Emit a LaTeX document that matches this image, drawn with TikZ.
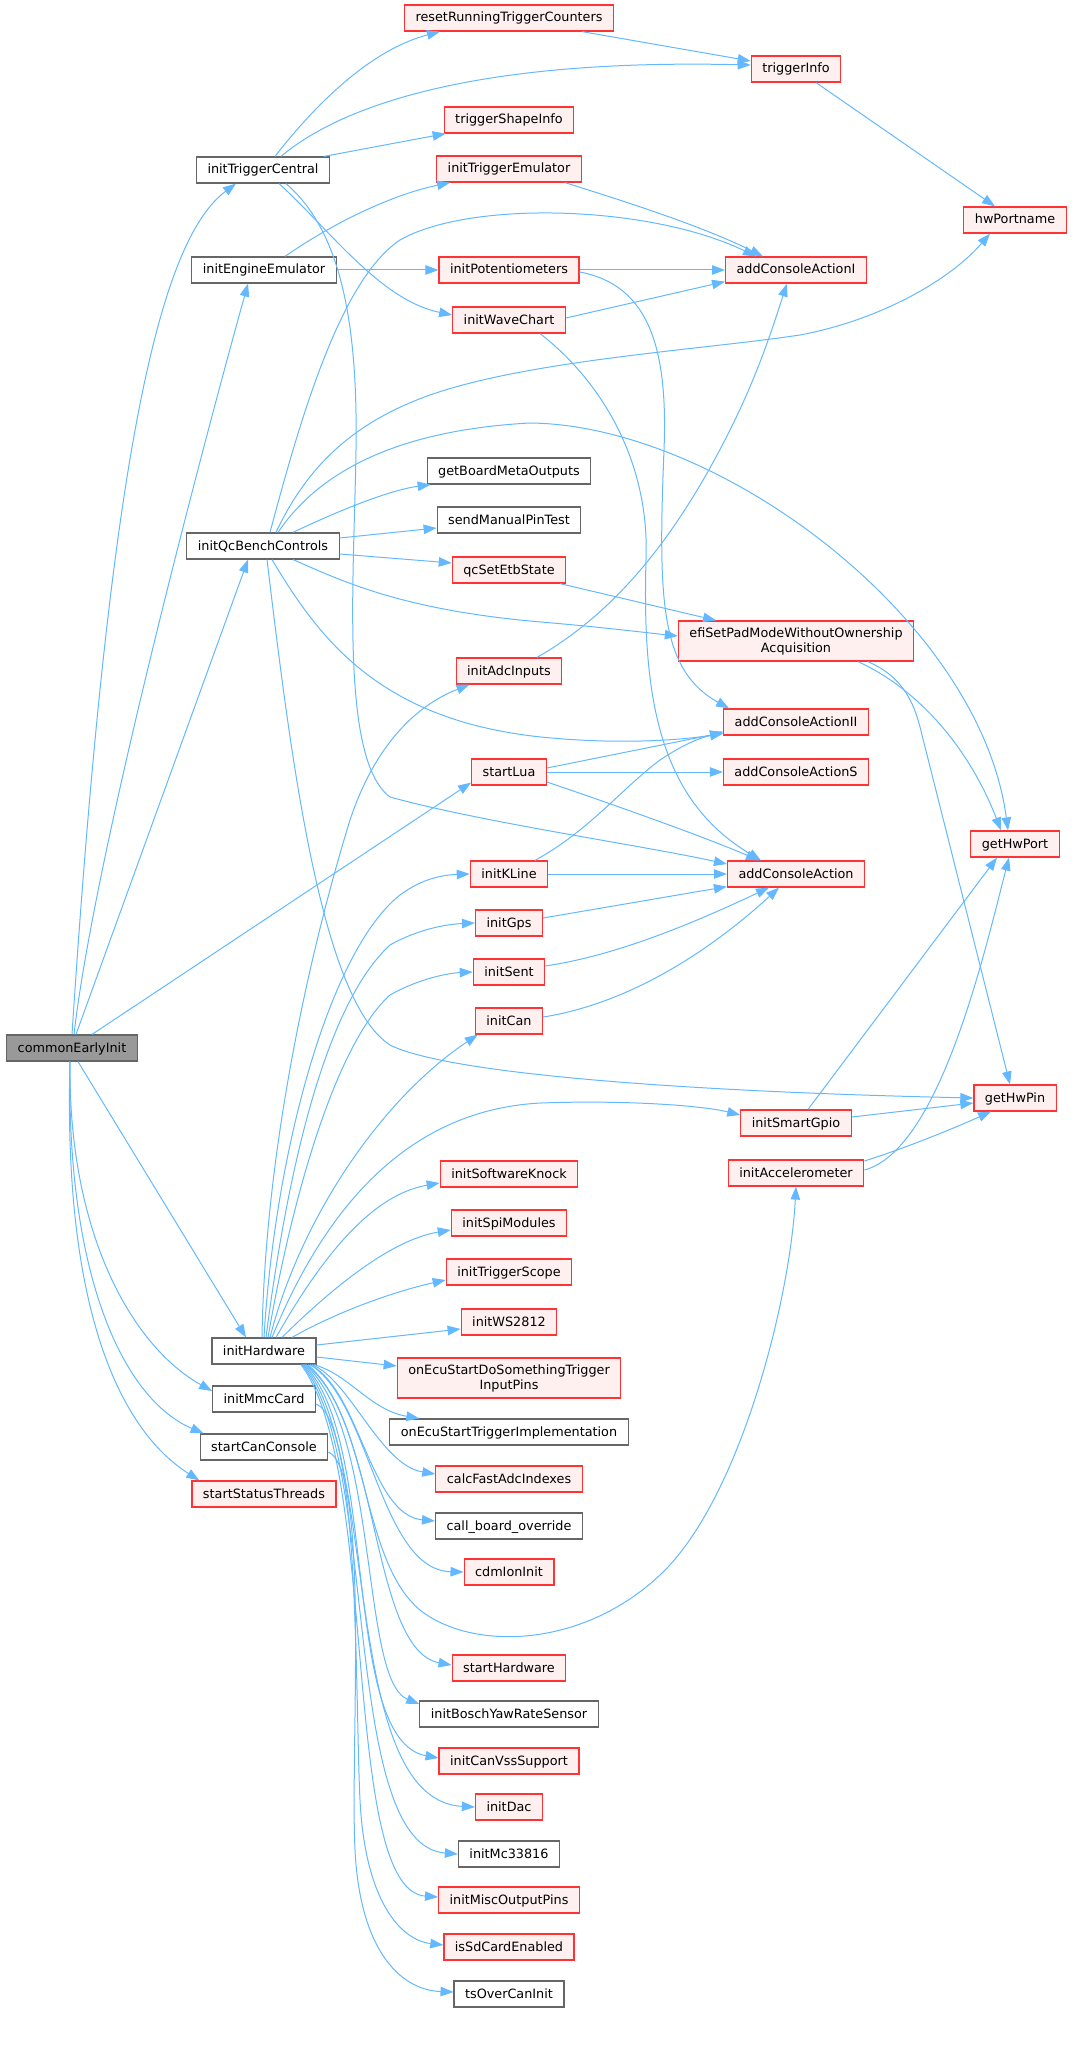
\documentclass[tikz,border=0pt]{standalone}
\usepackage{fontspec}
\setmainfont{DejaVu Sans}
\usetikzlibrary{arrows.meta}
\definecolor{edgecol}{HTML}{63B8FF}
\definecolor{redbd}{HTML}{FF3333}
\definecolor{redfill}{HTML}{FFF0F0}
\definecolor{graybd}{HTML}{666666}
\definecolor{rootfill}{HTML}{999999}
\tikzset{
  fn/.style={rectangle, draw=graybd, fill=white, line width=1.2pt,
    font=\fontsize{12.8}{15}\selectfont, inner xsep=11pt, inner ysep=0pt,
    minimum height=26pt, text height=10pt, text depth=2pt},
  rfn/.style={fn, draw=redbd, fill=redfill},
  rfn2/.style={rectangle, draw=redbd, fill=redfill, line width=1.2pt,
    font=\fontsize{12.8}{15}\selectfont, inner xsep=11pt, inner ysep=0pt,
    minimum height=40pt, align=center},
  root/.style={fn, fill=rootfill},
  e/.style={draw=edgecol, line width=1pt, -{Triangle[length=13pt,width=9.5pt]}}
}
\begin{document}
\begin{tikzpicture}[x=1pt,y=-1pt]
\useasboundingbox (0,0) rectangle (1073,2049);
% column A
\node[root] (cei) at (72,1048) {commonEarlyInit};
% column B
\node[fn] (itc) at (263,170) {initTriggerCentral};
\node[fn] (iee) at (264,270) {initEngineEmulator};
\node[fn] (iqc) at (263,546) {initQcBenchControls};
\node[fn] (ihw) at (264,1351) {initHardware};
\node[fn] (imc) at (264,1399) {initMmcCard};
\node[fn] (scc) at (264,1447) {startCanConsole};
\node[rfn] (sst) at (264,1494) {startStatusThreads};
% column C
\node[rfn] (rrtc) at (509,18) {resetRunningTriggerCounters};
\node[rfn] (tsi) at (509,120) {triggerShapeInfo};
\node[rfn] (ite) at (509,169) {initTriggerEmulator};
\node[rfn] (ipot) at (509,270) {initPotentiometers};
\node[rfn] (iwc) at (509,320) {initWaveChart};
\node[fn] (gbmo) at (509,471) {getBoardMetaOutputs};
\node[fn] (smpt) at (509,520) {sendManualPinTest};
\node[rfn] (qcs) at (509,570) {qcSetEtbState};
\node[rfn] (iadc) at (509,671) {initAdcInputs};
\node[rfn] (slua) at (509,772) {startLua};
\node[rfn] (ikl) at (509,874) {initKLine};
\node[rfn] (igps) at (509,923) {initGps};
\node[rfn] (isent) at (509,972) {initSent};
\node[rfn] (ican) at (509,1021) {initCan};
\node[rfn] (iswk) at (509,1174) {initSoftwareKnock};
\node[rfn] (ispi) at (509,1223) {initSpiModules};
\node[rfn] (itsc) at (509,1272) {initTriggerScope};
\node[rfn] (iws) at (509,1322) {initWS2812};
\node[rfn2] (oedst) at (509,1378) {onEcuStartDoSomethingTrigger\\InputPins};
\node[fn] (oeti) at (509,1432) {onEcuStartTriggerImplementation};
\node[rfn] (cfai) at (509,1479) {calcFastAdcIndexes};
\node[fn] (cbo) at (509,1526) {call\_board\_override};
\node[rfn] (cdm) at (509,1572) {cdmIonInit};
\node[rfn] (sthw) at (509,1668) {startHardware};
\node[fn] (ibyr) at (509,1714) {initBoschYawRateSensor};
\node[rfn] (icvs) at (509,1761) {initCanVssSupport};
\node[rfn] (idac) at (509,1807) {initDac};
\node[fn] (imc3) at (509,1854) {initMc33816};
\node[rfn] (imop) at (509,1900) {initMiscOutputPins};
\node[rfn] (isd) at (509,1947) {isSdCardEnabled};
\node[fn] (tsoc) at (509,1994) {tsOverCanInit};
% column D
\node[rfn] (ti) at (796,69) {triggerInfo};
\node[rfn] (acai) at (796,270) {addConsoleActionI};
\node[rfn2] (efi) at (796,641) {efiSetPadModeWithoutOwnership\\Acquisition};
\node[rfn] (acaii) at (796,722) {addConsoleActionII};
\node[rfn] (acas) at (796,772) {addConsoleActionS};
\node[rfn] (aca) at (796,874) {addConsoleAction};
\node[rfn] (isg) at (796,1123) {initSmartGpio};
\node[rfn] (iacc) at (796,1173) {initAccelerometer};
% column E
\node[rfn] (hwp) at (1015,220) {hwPortname};
\node[rfn] (ghp) at (1015,844) {getHwPort};
\node[rfn] (ghpin) at (1015,1098) {getHwPin};

% commonEarlyInit
\draw[e] (cei.north) .. controls (110,450) and (160,240) .. ([xshift=-27pt]itc.south);
\draw[e] ([xshift=2pt]cei.north) .. controls (95,850) and (210,420) .. ([xshift=-16pt]iee.south);
\draw[e] ([xshift=4pt]cei.north) -- ([xshift=-15pt]iqc.south);
\draw[e] ([xshift=20pt]cei.north) -- ([yshift=3pt]slua.south west);
\draw[e] ([xshift=6pt]cei.south) -- ([xshift=-18pt]ihw.north);
\draw[e] ([xshift=-2pt]cei.south) .. controls (68,1230) and (130,1345) .. ([yshift=8pt]imc.west);
\draw[e] ([xshift=-2pt]cei.south) .. controls (66,1280) and (125,1400) .. ([xshift=4pt]scc.north west);
\draw[e] ([xshift=-2pt]cei.south) .. controls (63,1310) and (120,1430) .. ([xshift=8pt]sst.north west);
% initTriggerCentral
\draw[e] ([xshift=12pt]itc.north) .. controls (315,105) and (370,50) .. ([xshift=36pt]rrtc.south west);
\draw[e] ([xshift=18pt]itc.north) .. controls (330,115) and (450,58) .. ([yshift=4pt]ti.west);
\draw[e] ([xshift=61pt]itc.north) -- ([xshift=2pt]tsi.south west);
\draw[e] ([xshift=16pt]itc.south) .. controls (330,230) and (380,300) .. ([yshift=5pt]iwc.west);
\draw[e] ([xshift=23pt]itc.south) .. controls (340,230) and (358,320) .. (356,450)
  .. controls (354,580) and (340,760) .. (390,797)
  .. controls (480,822) and (640,845) .. ([yshift=10pt]aca.west);
% initEngineEmulator
\draw[e] ([xshift=21pt]iee.north) .. controls (330,225) and (390,195) .. ([xshift=14pt]ite.south west);
\draw[e] (iee.east) -- (ipot.west);
\draw[e] ([xshift=56pt]ite.south) .. controls (620,200) and (700,225) .. ([xshift=-33pt]acai.north);
\draw[e] (ipot.east) -- (acai.west);
\draw[e] ([yshift=-2pt]ipot.east) .. controls (650,285) and (668,350) .. (664,450)
  .. controls (658,600) and (660,670) .. ([xshift=6pt]acaii.north west);
\draw[e] ([yshift=2pt]iwc.east) -- ([yshift=2pt]acai.south west);
\draw[e] ([xshift=31pt]iwc.south) .. controls (600,380) and (650,460) .. (646,560)
  .. controls (642,700) and (660,800) .. ([xshift=-35pt]aca.north);
% initQcBenchControls
\draw[e] ([xshift=7pt]iqc.north) .. controls (300,420) and (340,280) .. (400,240)
  .. controls (470,200) and (650,205) .. ([xshift=-40pt]acai.north);
\draw[e] ([xshift=13pt]iqc.north) .. controls (310,460) and (360,420) .. (430,395)
  .. controls (530,360) and (700,350) .. (800,335)
  .. controls (880,320) and (950,280) .. ([xshift=-25pt]hwp.south);
\draw[e] ([xshift=15pt]iqc.north) .. controls (320,470) and (400,430) .. (530,423)
  .. controls (720,425) and (980,620) .. ([xshift=-7pt]ghp.north);
\draw[e] ([xshift=30pt]iqc.north) .. controls (340,510) and (390,490) .. ([xshift=4pt]gbmo.south west);
\draw[e] ([yshift=8pt]iqc.east) -- ([yshift=-8pt]smpt.west);
\draw[e] ([yshift=-8pt]iqc.east) -- ([yshift=7pt]qcs.west);
\draw[e] ([xshift=30pt]iqc.south) .. controls (340,580) and (400,610) .. (541,622)
  .. controls (600,627) and (640,632) .. ([yshift=5pt]efi.west);
\draw[e] ([xshift=9pt]iqc.south) .. controls (320,640) and (380,720) .. (541,737)
  .. controls (620,745) and (680,740) .. ([yshift=2pt]acaii.south west);
\draw[e] ([xshift=4pt]iqc.south) .. controls (290,750) and (320,1000) .. (390,1045)
  .. controls (450,1075) and (700,1092) .. (ghpin.west);
% others
\draw[e] ([xshift=51pt]qcs.south) -- ([xshift=-80pt]efi.north);
\draw[e] ([xshift=62pt]efi.south) .. controls (920,690) and (970,750) .. ([xshift=-14pt]ghp.north);
\draw[e] ([xshift=72pt]efi.south) .. controls (905,678) and (915,705) .. (922,735) -- ([xshift=-5pt]ghpin.north);
\draw[e] ([xshift=28pt]iadc.north) .. controls (620,610) and (680,530) .. (730,430)
  .. controls (760,370) and (775,320) .. ([xshift=-9pt]acai.south);
\draw[e] ([yshift=4pt]slua.east) -- ([yshift=3pt]acaii.south west);
\draw[e] (slua.east) -- (acas.west);
\draw[e] ([yshift=-10pt]slua.east) .. controls (600,800) and (700,835) .. ([xshift=-37pt]aca.north);
\draw[e] ([xshift=26pt]ikl.north) .. controls (590,830) and (620,790) .. (660,760)
  .. controls (690,740) and (705,737) .. ([yshift=4pt]acaii.south west);
\draw[e] (ikl.east) -- (aca.west);
\draw[e] ([yshift=5pt]igps.east) -- ([yshift=1pt]aca.south west);
\draw[e] ([yshift=6pt]isent.east) .. controls (620,955) and (700,920) .. ([xshift=-27pt]aca.south);
\draw[e] ([yshift=4pt]ican.east) .. controls (620,1005) and (700,960) .. ([xshift=-17pt]aca.south);
\draw[e] ([xshift=12pt]isg.north) -- ([xshift=-18pt]ghp.south);
\draw[e] ([yshift=6pt]isg.east) -- ([yshift=-5pt]ghpin.west);
\draw[e] ([yshift=3pt]iacc.east) .. controls (940,1150) and (985,950) .. ([xshift=-6pt]ghp.south);
\draw[e] ([yshift=12pt]iacc.east) .. controls (900,1150) and (950,1130) .. ([xshift=-24pt]ghpin.south);
\draw[e] ([xshift=20pt]ti.south) -- ([xshift=-20pt]hwp.north);
\draw[e] ([xshift=73pt]rrtc.south) -- ([yshift=8pt]ti.west);
% initHardware
\draw[e] ([xshift=-2pt]ihw.north) .. controls (265,1150) and (310,950) .. (350,820)
  .. controls (380,730) and (430,700) .. ([xshift=14pt]iadc.south west);
\draw[e] (ihw.north) .. controls (275,1150) and (330,950) .. (400,895)
  .. controls (420,880) and (440,875) .. (ikl.west);
\draw[e] ([xshift=2pt]ihw.north) .. controls (290,1150) and (330,1000) .. (390,945)
  .. controls (420,928) and (450,924) .. (igps.west);
\draw[e] ([xshift=4pt]ihw.north) .. controls (295,1180) and (340,1040) .. (390,995)
  .. controls (420,978) and (450,973) .. (isent.west);
\draw[e] ([xshift=6pt]ihw.north) .. controls (300,1220) and (380,1100) .. ([xshift=3pt]ican.south west);
\draw[e] ([xshift=8pt]ihw.north) .. controls (320,1220) and (400,1110) .. (541,1103)
  .. controls (620,1100) and (700,1105) .. ([yshift=8pt]isg.west);
\draw[e] ([xshift=12pt]ihw.north) .. controls (320,1260) and (370,1195) .. ([yshift=-9pt]iswk.west);
\draw[e] ([xshift=18pt]ihw.north) .. controls (330,1290) and (390,1240) .. ([yshift=-7pt]ispi.west);
\draw[e] ([xshift=28pt]ihw.north) .. controls (340,1310) and (400,1290) .. ([yshift=-8pt]itsc.west);
\draw[e] ([yshift=6pt]ihw.east) -- ([yshift=-7pt]iws.west);
\draw[e] ([yshift=-6pt]ihw.east) -- ([yshift=12pt]oedst.west);
\draw[e] ([xshift=50pt]ihw.south) .. controls (350,1375) and (370,1410) .. ([xshift=30pt]oeti.north west);
\draw[e] ([xshift=48pt]ihw.south) .. controls (350,1380) and (380,1465) .. ([yshift=5pt]cfai.west);
\draw[e] ([xshift=46pt]ihw.south) .. controls (360,1390) and (370,1515) .. ([yshift=5pt]cbo.west);
\draw[e] ([xshift=46pt]ihw.south) .. controls (370,1400) and (380,1570) .. (cdm.west);
\draw[e] ([xshift=44pt]ihw.south) .. controls (370,1420) and (360,1560) .. (420,1610)
  .. controls (470,1650) and (580,1650) .. (660,1575)
  .. controls (740,1500) and (790,1300) .. (iacc.south);
\draw[e] ([xshift=42pt]ihw.south) .. controls (380,1420) and (370,1650) .. ([yshift=3pt]sthw.west);
\draw[e] ([xshift=41pt]ihw.south) .. controls (380,1430) and (360,1680) .. ([yshift=10pt]ibyr.west);
\draw[e] ([xshift=40pt]ihw.south) .. controls (380,1440) and (340,1740) .. ([yshift=3pt]icvs.west);
\draw[e] ([xshift=39pt]ihw.south) .. controls (380,1450) and (340,1800) .. (idac.west);
\draw[e] ([xshift=38pt]ihw.south) .. controls (380,1460) and (340,1845) .. (imc3.west);
\draw[e] ([xshift=37pt]ihw.south) .. controls (380,1470) and (340,1890) .. ([yshift=3pt]imop.west);
\draw[e] ([yshift=-5pt]imc.east) .. controls (360,1420) and (355,1700) .. (360,1800)
  .. controls (365,1900) and (400,1940) .. ([yshift=2pt]isd.west);
\draw[e] ([yshift=-5pt]scc.east) .. controls (370,1470) and (350,1750) .. (355,1850)
  .. controls (360,1950) and (400,1990) .. ([yshift=2pt]tsoc.west);
\end{tikzpicture}
\end{document}
